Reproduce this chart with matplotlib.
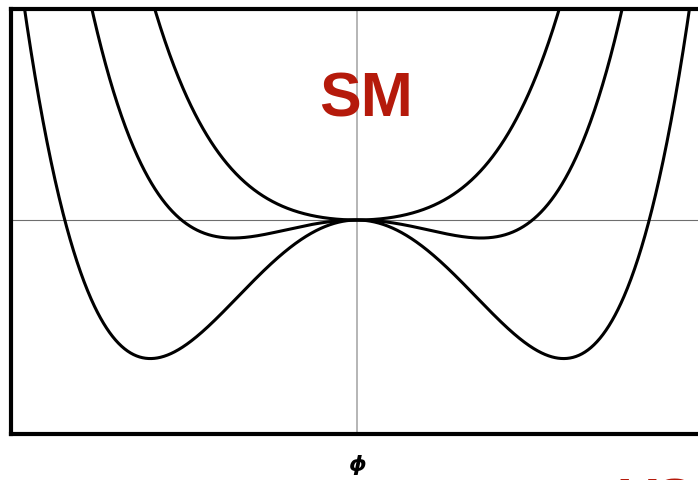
import numpy as np
import matplotlib
matplotlib.use('Agg')
from matplotlib import pyplot as plt

# quartic potential V(phi) = m2*phi^2 + lam*phi^4, one curve per mass term
mass_terms = [-0.649, -0.234, 0.205]
lam = 0.076
labels = ['SM', 'VS']

phi = np.linspace(-3.5, 3.5, 1401)

fig = plt.figure(figsize=(6.98, 4.81), dpi=100)
ax = fig.add_axes([11 / 698, 46 / 481, 692 / 698, 425 / 481])

for m2 in mass_terms:
    ax.plot(phi, m2 * phi**2 + lam * phi**4, color='black', lw=2.2, zorder=3)

ax.axhline(0, color='#6e6e6e', lw=0.8, zorder=1)
ax.axvline(0, color='#b0b0b0', lw=1.3, zorder=1)

ax.set_xlim(-3.46, 3.46)
ax.set_ylim(-2.14, 2.11)
ax.set_xticks([])
ax.set_yticks([])
for s in ax.spines.values():
    s.set_linewidth(3)
    s.set_color('black')
    s.set_zorder(5)

ax.text(0.09, 1.04, labels[0], color='#b51a0b', fontsize=45, fontweight='bold',
        family='Liberation Sans', ha='center', va='baseline', zorder=4)
fig.text(357 / 698, 1 - 465 / 481, 'ϕ', fontsize=16, fontweight='bold',
         style='italic', family='DejaVu Sans', ha='center', va='center')
fig.text(620 / 698, 1 - 477 / 481, labels[1], color='#b51a0b', fontsize=40,
         fontweight='bold', family='Liberation Sans', ha='left', va='top')

fig.savefig('out.png', dpi=100)
